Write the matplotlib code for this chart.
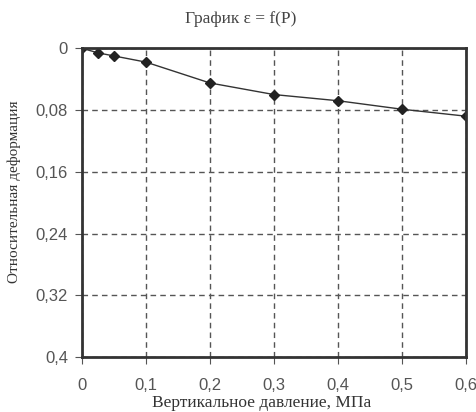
import matplotlib.pyplot as plt

# data
pressure = [0, 0.025, 0.05, 0.1, 0.2, 0.3, 0.4, 0.5, 0.6]
strain = [0, 0.006, 0.010, 0.018, 0.045, 0.060, 0.068, 0.079, 0.088]
xticks = [0, 0.1, 0.2, 0.3, 0.4, 0.5, 0.6]
yticks = [0, 0.08, 0.16, 0.24, 0.32, 0.4]

def comma(v):
    s = f"{v:g}"
    return s.replace('.', ',')

fig = plt.figure(figsize=(4.76, 4.12), dpi=100)
ax = fig.add_axes([0.172, 0.133, 0.807, 0.750])

ax.plot(pressure, strain, color='#333333', linewidth=1.0,
        marker='D', markersize=5.5, markerfacecolor='#222222', markeredgecolor='#222222')

ax.set_xlim(0, 0.6)
ax.set_ylim(0.4, 0)
ax.set_xticks(xticks)
ax.set_yticks(yticks)
ax.set_xticklabels([comma(v) for v in xticks])
ax.set_yticklabels([comma(v) for v in yticks])
ax.tick_params(labelsize=12, labelcolor='#555555', color='#555555', length=5)
ax.tick_params(axis='x', pad=10)
ax.tick_params(axis='y', pad=5)
for lab in ax.get_xticklabels() + ax.get_yticklabels():
    lab.set_family('Liberation Sans')

ax.grid(True, color='#555555', linestyle=(0, (4, 3)), linewidth=1.0)
for sp in ax.spines.values():
    sp.set_linewidth(2)
    sp.set_color('#333333')

fig.text(0.505, 0.955, 'График ε = f(P)', ha='center', va='center',
         family='Liberation Serif', fontsize=12.5, color='#444444')
fig.text(0.55, 0.022, 'Вертикальное давление, МПа', ha='center', va='center',
         family='Liberation Serif', fontsize=12.5, color='#333333')
fig.text(0.03, 0.535, 'Относительная деформация', ha='center', va='center',
         rotation=90, family='Liberation Serif', fontsize=11, color='#333333')

fig.savefig('out.png', dpi=100)
